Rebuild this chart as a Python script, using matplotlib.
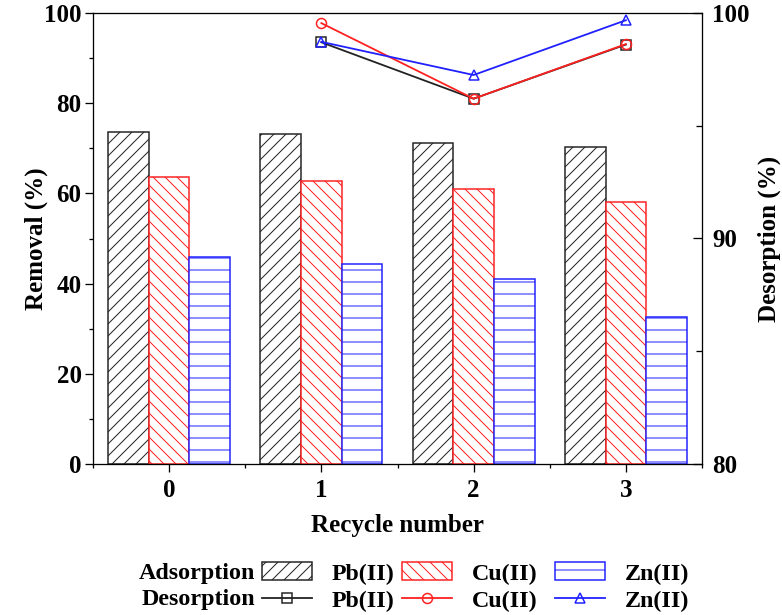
import numpy as np
import matplotlib
matplotlib.use('Agg')
import matplotlib.pyplot as plt
from matplotlib.patches import Patch
from matplotlib.lines import Line2D

plt.rcParams['font.family'] = ['Liberation Serif', 'DejaVu Serif']
plt.rcParams['font.weight'] = 'bold'
plt.rcParams['hatch.linewidth'] = 1.0

# removal (%) per recycle, adsorption bars
cycles = [0, 1, 2, 3]
pb_ads = [73.7, 73.2, 71.2, 70.2]
cu_ads = [63.7, 62.7, 61.0, 58.2]
zn_ads = [45.8, 44.4, 41.1, 32.7]

# desorption (%) lines, cycles 1..3
des_cycles = [1, 2, 3]
pb_des = [98.7, 96.2, 98.6]
cu_des = [99.55, 96.2, 98.62]
zn_des = [98.72, 97.25, 99.68]

names = ['Pb(II)', 'Cu(II)', 'Zn(II)']
cols = ['#222222', '#ff2020', '#2020ff']
hatches = ['//', '\\\\', '-']
marks = ['s', 'o', '^']

dpi = 72
fig = plt.figure(figsize=(782/dpi, 615/dpi), dpi=dpi)
ax = fig.add_axes([93/782, (615-464)/615, (702-93)/782, (464-13)/615])

w = 0.8/3
x = np.array(cycles)
for i, vals in enumerate([pb_ads, cu_ads, zn_ads]):
    ax.bar(x + (i-1)*w, vals, w, color='white', edgecolor=cols[i],
           hatch=hatches[i], linewidth=1.5, zorder=2)

ax.set_xlim(-0.5, 3.5)
ax.set_ylim(0, 100)
ax.set_xticks(cycles)
ax.set_xticks([-0.5, 0.5, 1.5, 2.5, 3.5], minor=True)
ax.set_yticks(np.arange(0, 101, 20))
ax.set_yticks(np.arange(10, 100, 20), minor=True)
ax.tick_params(which='major', direction='out', length=8, width=1.3, labelsize=25)
ax.tick_params(which='minor', direction='out', length=4, width=1.3)
ax.tick_params(axis='x', pad=7)
for s in ax.spines.values():
    s.set_linewidth(1.3)
ax.set_ylabel('Removal (%)', fontsize=25, fontweight='bold', labelpad=-4)
ax.set_xlabel('Recycle number', fontsize=25, fontweight='bold', labelpad=12)

ax2 = ax.twinx()
ax2.set_ylim(80, 100)
ax2.set_yticks([80, 90, 100])
ax2.set_yticks([85, 95], minor=True)
ax2.tick_params(which='major', direction='in', length=9, width=1.3, labelsize=25, pad=10)
ax2.tick_params(which='minor', direction='in', length=6, width=1.3)
ax2.set_ylabel('Desorption (%)', fontsize=25, fontweight='bold', labelpad=8)

for i, vals in enumerate([pb_des, cu_des, zn_des]):
    ax2.plot(des_cycles, vals, color=cols[i], marker=marks[i], markersize=10,
             markerfacecolor='none', markeredgecolor=cols[i], markeredgewidth=1.5,
             linewidth=1.8)

# one legend column per metal
col_x = [262, 402, 555]
for i in range(3):
    hs = [Patch(facecolor='white', edgecolor=cols[i], hatch=hatches[i], linewidth=1.5),
          Line2D([], [], color=cols[i], marker=marks[i], markersize=10,
                 markerfacecolor='none', markeredgewidth=1.5, linewidth=1.8)]
    fig.legend(hs, [names[i], names[i]], loc='center left',
               bbox_to_anchor=(col_x[i]/782, 1-587/615), frameon=False,
               fontsize=24, handlelength=2.1, handleheight=0.8, handletextpad=0.8,
               labelspacing=0.2, borderpad=0, borderaxespad=0)
fig.text(255/782, 1-573/615, 'Adsorption', ha='right', va='center', fontsize=24, fontweight='bold')
fig.text(255/782, 1-600/615, 'Desorption', ha='right', va='center', fontsize=24, fontweight='bold')

fig.savefig('out.png', dpi=dpi)
